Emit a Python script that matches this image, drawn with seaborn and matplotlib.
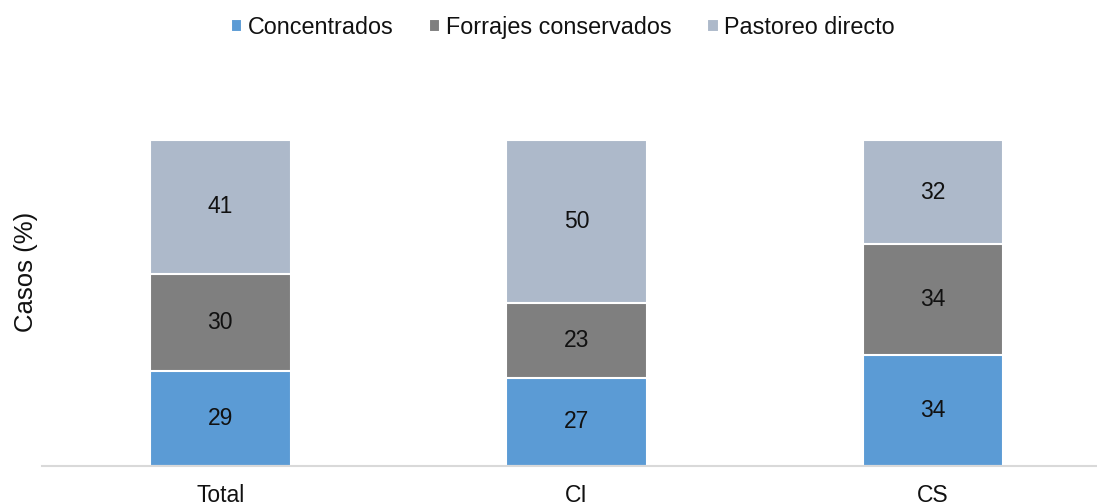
import matplotlib.pyplot as plt
import pandas as pd
import seaborn as sns

categories = ["Total", "CI", "CS"]
concentrados = [29, 27, 34]
forrajes = [30, 23, 34]
pastoreo = [41, 50, 32]
series_names = ["Concentrados", "Forrajes conservados", "Pastoreo directo"]
colors = ["#5B9BD5", "#7F7F7F", "#ADB9CA"]


def main() -> None:
    sns.set_theme(style="white")
    plt.rcParams["font.family"] = ["Liberation Sans", "DejaVu Sans"]

    df = pd.DataFrame(
        {
            "grupo": categories,
            "Concentrados": concentrados,
            "Forrajes conservados": forrajes,
            "Pastoreo directo": pastoreo,
        }
    )

    fig = plt.figure(figsize=(10.97, 5.04), dpi=100)
    ax = fig.add_axes([42 / 1097, 38 / 504, (1097 - 42) / 1097, (466 - 140) / 504])

    bottom = pd.Series([0] * len(df))
    for k, (name, color) in enumerate(zip(series_names, colors)):
        sns.barplot(
            x=df["grupo"],
            y=df[name] + bottom,
            color=color,
            saturation=1,
            width=0.395,
            edgecolor="white",
            linewidth=1.5,
            ax=ax,
            label=name,
            zorder=3 - k,
        )
        for i, (val, b) in enumerate(zip(df[name], bottom)):
            ax.text(i, b + val / 2, f"{val}", ha="center", va="center", fontsize=16.5, color="#111111", zorder=10)
        bottom = bottom + df[name]

    handles, labels = ax.get_legend_handles_labels()
    if ax.get_legend() is not None:
        ax.get_legend().remove()

    ax.set_xlim(-0.5, 2.46)
    ax.set_ylim(0, 100)
    ax.set_xlabel("")
    ax.set_ylabel("Casos (%)", fontsize=18.5, color="#111111")
    ax.yaxis.set_label_coords(-0.004, 0.595)
    ax.set_yticks([])
    ax.tick_params(axis="x", labelsize=16.5, length=0, pad=13, labelcolor="#111111")
    for side in ["top", "right", "left"]:
        ax.spines[side].set_visible(False)
    ax.spines["bottom"].set_color("#d9d9d9")
    ax.spines["bottom"].set_linewidth(1.5)
    ax.spines["bottom"].set_zorder(5)

    fig.legend(
        handles,
        labels,
        loc="upper center",
        bbox_to_anchor=(0.513, 1.01),
        ncol=3,
        frameon=False,
        fontsize=16.8,
        labelcolor="#111111",
        handlelength=0.5,
        handleheight=0.5,
        handletextpad=0.25,
        columnspacing=1.5,
    )

    fig.savefig("out.png", dpi=100)
    plt.close(fig)


if __name__ == "__main__":
    main()
